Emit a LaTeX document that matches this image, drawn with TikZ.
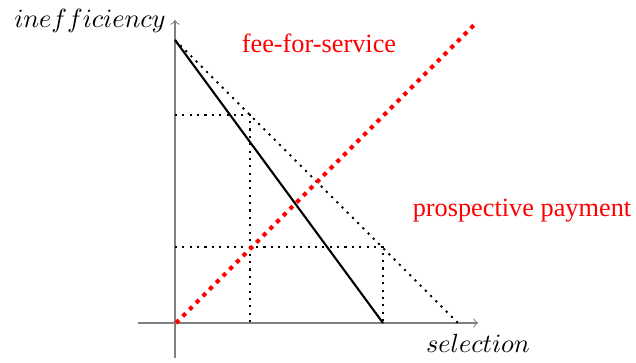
\documentclass[tikz,border=0pt]{standalone}
\usepackage{fontspec}
\setmainfont{Liberation Serif}
\begin{document}
\begin{tikzpicture}[x=0.38pt,y=-0.38pt,
  axis/.style={gray,->},
  guide/.style={line width=0.8pt,dotted},
  curve/.style={thick},
  redline/.style={red,line width=1.6pt,dotted},
  redlabel/.style={red,font=\fontsize{10}{12}\selectfont}]
\useasboundingbox (0,0) rectangle (636,362);
\coordinate (ytop) at (175,20);
\coordinate (ybot) at (175,358);
\coordinate (xl) at (138,323);
\coordinate (xr) at (478,323);
\coordinate (O) at (176,323);
\coordinate (A) at (175,40);
\coordinate (B) at (383,323);
\coordinate (C) at (458,323);
\coordinate (R) at (476,23);
\coordinate (P1) at (250,115);
\coordinate (P1y) at (175,115);
\coordinate (P1x) at (250,323);
\coordinate (P2) at (383,247);
\coordinate (P2y) at (175,247);
\coordinate (P2x) at (383,323);
\draw[axis] (ybot) -- (ytop);
\draw[axis] (xl) -- (xr);
\draw[guide] (A) -- (C);
\draw[guide] (P1y) -- (P1) -- (P1x);
\draw[guide] (P2y) -- (P2) -- (P2x);
\draw[curve] (A) -- (B);
\draw[redline] (O) -- (R);
\node[left] (ylab) at (175,21) {$inefficiency$};
\node (xlab) at (478,343) {$selection$};
\node[redlabel] (ffs) at (319,43) {fee-for-service};
\node[redlabel] (pp) at (522,211) {prospective payment};
\end{tikzpicture}
\end{document}
